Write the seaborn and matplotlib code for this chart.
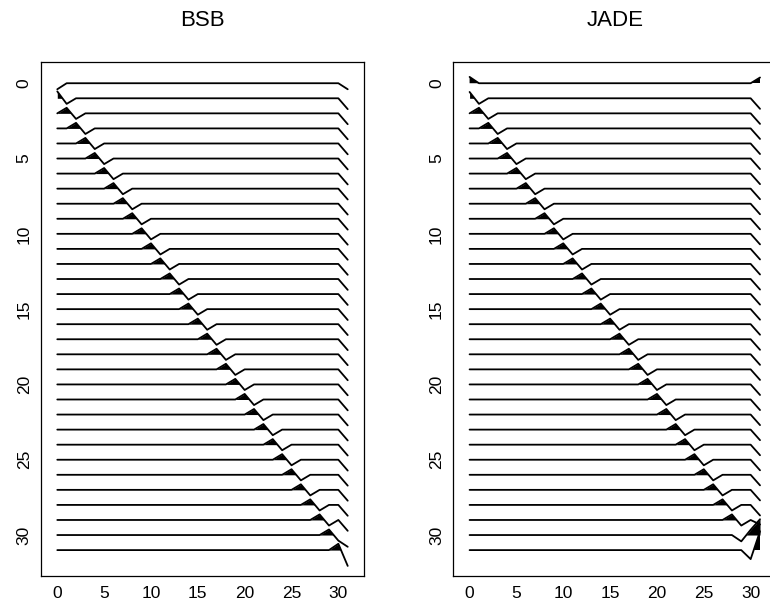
import numpy as np
import pandas as pd
import matplotlib
matplotlib.use("Agg")
import matplotlib.pyplot as plt
import seaborn as sns

N = 32
columns = list(range(N))
tick_vals = [0, 5, 10, 15, 20, 25, 30]
titles = ["BSB", "JADE"]

# --- BSB: values at (i, i-1) for i=1..31, (i, i) for i=0..31, (i, 31) for i=0..30
bsb_sub = [0.46] + [0.37] * 29 + [0.42]
bsb_diag = [-0.40] + [-0.37] * 30 + [-1.05]
bsb_last = [-0.40] + [-0.72] * 29 + [-0.78]

# --- JADE
jade_sub = [0.42] + [0.37] * 28 + [-0.42, -0.30]
jade_diag = [0.42] + [-0.37] * 29 + [0.35, -0.60]
jade_last = [0.38] + [-0.70] * 28 + [-0.30, 1.05]
jade_corner = 1.25  # value at (31, 31)


def build(sub, diag, last, corner=None):
    M = np.zeros((N, N))
    for i in range(1, N):
        M[i, i - 1] += sub[i - 1]
    for i in range(N):
        M[i, i] += diag[i]
    for i in range(N - 1):
        M[i, N - 1] += last[i]
    if corner is not None:
        M[N - 1, N - 2] = diag[N - 1]
        M[N - 1, N - 3] = sub[N - 2]
        M[N - 1, N - 1] = corner
    return M


def build_jade():
    M = np.zeros((N, N))
    for i in range(1, N - 1):
        M[i, i - 1] += jade_sub[i - 1]
    for i in range(N - 1):
        M[i, i] += jade_diag[i]
    for i in range(N - 1):
        M[i, N - 1] += jade_last[i]
    # last row: small dip at column 30, large positive at column 31
    M[N - 1, N - 2] = jade_diag[N - 1]
    M[N - 1, N - 1] = jade_corner
    return M


mats = [build(bsb_sub, bsb_diag, bsb_last), build_jade()]

sns.set_style("white")
plt.rcParams["font.family"] = ["Liberation Sans", "DejaVu Sans"]
plt.rcParams["text.color"] = "black"

W, H = 770, 612
fig = plt.figure(figsize=(W / 100, H / 100), dpi=100)

ax_w = 323.6
top_px, bot_px = 62, 576
lefts = [40.7, 453.0]
centers = [40.7 + ax_w / 2, 453.0 + ax_w / 2]

for k, M in enumerate(mats):
    ax = fig.add_axes([lefts[k] / W, 1 - bot_px / H, ax_w / W, (bot_px - top_px) / H])
    rows = []
    for i in range(N):
        for j in columns:
            rows.append({"row": i, "col": j, "y": i - M[i, j]})
    df = pd.DataFrame(rows)
    sns.lineplot(data=df, x="col", y="y", units="row", estimator=None,
                 color="black", lw=1.3, ax=ax, sort=False, legend=False)
    for i in range(N):
        yv = i - M[i]
        ax.fill_between(columns, i, yv, where=yv < i, interpolate=True,
                        color="black", lw=0)
    ax.set_xlim(-1.77, 32.77)
    ax.set_ylim(32.72, -1.41)
    ax.set_xticks(tick_vals)
    ax.set_yticks(tick_vals)
    ax.set_xlabel("")
    ax.set_ylabel("")
    for s in ax.spines.values():
        s.set_visible(True)
        s.set_color("black")
        s.set_linewidth(0.9)
    ax.tick_params(axis="both", direction="out", length=3.5, width=0.8,
                   labelsize=12.5, colors="black")
    ax.tick_params(axis="x", pad=3.5)
    ax.tick_params(axis="y", pad=3, labelrotation=90)
    for lab in ax.get_yticklabels():
        lab.set_va("center")
    fig.text(centers[k] / W, 1 - 21 / H, titles[k], ha="center", va="center",
             fontsize=16, color="black")

fig.savefig("out.png", dpi=100)
